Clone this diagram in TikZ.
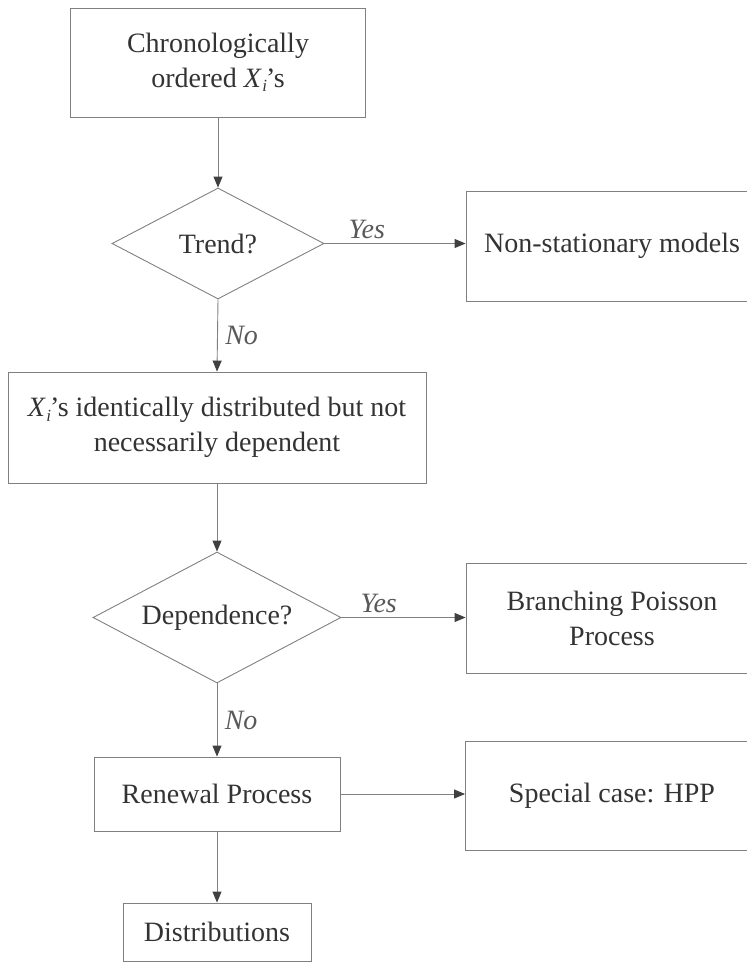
\documentclass[tikz,border=0pt]{standalone}
\usepackage{fontspec}
\setmainfont{LiberationSerif}[Extension=.ttf, UprightFont=*-Regular, ItalicFont=*-Italic, BoldFont=*-Bold, BoldItalicFont=*-BoldItalic]
\usetikzlibrary{shapes.geometric,arrows.meta}
\newcommand{\myXis}{\textit{X}\kern0.5pt\raisebox{-0.35ex}{\fontsize{17}{17}\selectfont\textit{i}}\kern-1pt's}
\begin{document}
\begin{tikzpicture}[x=1pt,y=-1pt,
  every node/.style={font=\fontsize{28}{35}\selectfont, text=black!80},
  box/.style={draw=black!50, line width=0.9pt, rectangle, inner sep=0pt, align=center},
  decision/.style={draw=black!50, line width=0.9pt, diamond, aspect=2, inner sep=0pt, align=center},
  conn/.style={draw=black!50, line width=0.9pt, -{Triangle[length=11pt,width=9pt,fill=black!75,color=black!75]}},
  lbl/.style={font=\fontsize{28}{35}\selectfont\itshape, text=black!65}]
\useasboundingbox (0,0) rectangle (747,962);
\node[box, minimum width=295pt, minimum height=109pt] (chron) at (218,62.5) {Chronologically\\ordered \myXis};
\node[decision, minimum width=212pt, minimum height=111pt] (trend) at (218,243.5) {Trend?};
\node[box, minimum width=292pt, minimum height=110pt] (nonst) at (612,246) {Non-stationary models};
\node[box, minimum width=418pt, minimum height=111pt] (ident) at (217,427.5) {\myXis\ identically distributed but not\\necessarily dependent};
\node[decision, minimum width=248pt, minimum height=131pt] (dep) at (217,617.5) {Dependence?};
\node[box, minimum width=292pt, minimum height=110pt] (branch) at (612,618) {Branching Poisson\\Process};
\node[box, minimum width=246pt, minimum height=74pt] (renew) at (217,794) {Renewal Process};
\node[box, minimum width=293pt, minimum height=109pt] (hpp) at (612,795.5) {Special case: HPP};
\node[box, minimum width=188pt, minimum height=58pt] (distr) at (217,932) {Distributions};
\draw[conn] (chron.south) -- (trend.north);
\draw[conn] (trend.east) -- (trend.east -| nonst.west) node[lbl, pos=0.3, above=1pt] (y1) {Yes};
\draw[conn] (trend.south) -- (ident.north) node[lbl, midway, right=4pt] (n1) {No};
\draw[conn] (ident.south) -- (dep.north);
\draw[conn] (dep.east) -- (dep.east -| branch.west) node[lbl, pos=0.3, above=1pt] (y2) {Yes};
\draw[conn] (dep.south) -- (renew.north) node[lbl, midway, right=4pt] (n2) {No};
\draw[conn] (renew.east) -- (renew.east -| hpp.west);
\draw[conn] (renew.south) -- (distr.north);
\end{tikzpicture}
\end{document}
